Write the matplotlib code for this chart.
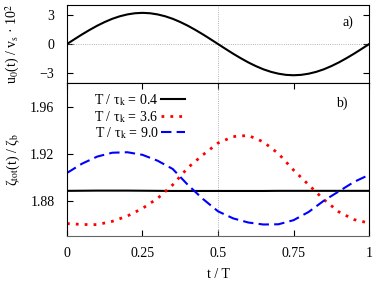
import matplotlib
matplotlib.use("Agg")
import matplotlib.pyplot as plt

plt.rcParams['font.family'] = ['Liberation Serif', 'DejaVu Serif']
plt.rcParams['mathtext.fontset'] = 'stix'
plt.rcParams['font.size'] = 10

# time axis (t / T)
t_top = [0.0, 0.025, 0.05, 0.075, 0.1, 0.125, 0.15, 0.175, 0.2, 0.225, 0.25,
         0.275, 0.3, 0.325, 0.35, 0.375, 0.4, 0.425, 0.45, 0.475, 0.5,
         0.525, 0.55, 0.575, 0.6, 0.625, 0.65, 0.675, 0.7, 0.725, 0.75,
         0.775, 0.8, 0.825, 0.85, 0.875, 0.9, 0.925, 0.95, 0.975, 1.0]
u0 = [0.0, 0.50, 0.99, 1.45, 1.88, 2.26, 2.59, 2.85, 3.04, 3.16, 3.2,
      3.16, 3.04, 2.85, 2.59, 2.26, 1.88, 1.45, 0.99, 0.50, 0.0,
      -0.50, -0.99, -1.45, -1.88, -2.26, -2.59, -2.85, -3.04, -3.16, -3.2,
      -3.16, -3.04, -2.85, -2.59, -2.26, -1.88, -1.45, -0.99, -0.50, 0.0]

t_bot = [0.0, 0.05, 0.1, 0.15, 0.2, 0.25, 0.3, 0.35, 0.4, 0.45, 0.5,
         0.55, 0.6, 0.65, 0.7, 0.75, 0.8, 0.85, 0.9, 0.95, 1.0]
zeta_04 = [1.8884, 1.8885, 1.8886, 1.8886, 1.8886, 1.8885, 1.8884, 1.8883, 1.8883, 1.8883, 1.8883,
           1.8883, 1.8883, 1.8883, 1.8884, 1.8884, 1.8884, 1.8884, 1.8884, 1.8884, 1.8884]
zeta_36 = [1.8606, 1.8598, 1.8597, 1.8625, 1.8670, 1.8735, 1.8820, 1.8935, 1.9080, 1.9190, 1.9290,
           1.9345, 1.9355, 1.9300, 1.9200, 1.9060, 1.8935, 1.8810, 1.8705, 1.8640, 1.8610]
zeta_90 = [1.9036, 1.9115, 1.9175, 1.9208, 1.9212, 1.9190, 1.9140, 1.9070, 1.8935, 1.8815, 1.8710,
           1.8650, 1.8615, 1.8598, 1.8600, 1.8635, 1.8705, 1.8800, 1.8880, 1.8960, 1.9020]
labels = ['T / τ$_\\mathrm{k}$ = 0.4', 'T / τ$_\\mathrm{k}$ = 3.6', 'T / τ$_\\mathrm{k}$ = 9.0']

xticks = [0, 0.25, 0.5, 0.75, 1]
xticklabels = ['0', '0.25', '0.5', '0.75', '1']

fig = plt.figure(figsize=(3.74, 2.81), dpi=100)
gs = fig.add_gridspec(2, 1, height_ratios=[78, 153], hspace=0,
                      left=0.179, right=0.987, top=0.982, bottom=0.160)
ax1 = fig.add_subplot(gs[0])
ax2 = fig.add_subplot(gs[1], sharex=ax1)

# panel a)
ax1.axhline(0, color='#999999', lw=0.6, ls=':')
ax1.axvline(0.5, color='#999999', lw=0.6, ls=':')
ax1.plot(t_top, u0, color='black', lw=1.5)
ax1.set_ylim(-4, 4)
ax1.set_yticks([-3, 0, 3])
ax1.set_yticklabels(['−3', '0', '3'])
ax1.tick_params(axis='y', direction='in', left=True, right=True, length=4, pad=9)
ax1.tick_params(axis='x', bottom=False, labelbottom=False)
ax1.set_ylabel('u$_0$(t) / v$_\\mathrm{s}$ · 10$^2$', labelpad=6)
ax1.text(0.93, 0.78, 'a)', transform=ax1.transAxes, ha='center', va='center')

# panel b)
ax2.axvline(0.5, color='#999999', lw=0.6, ls=':')
ax2.plot(t_bot, zeta_04, color='black', lw=1.5, label=labels[0])
ax2.plot(t_bot, zeta_36, color='red', lw=2.0, ls=(0, (1, 2.2)), label=labels[1])
ax2.plot(t_bot, zeta_90, color='blue', lw=1.5, ls=(0, (5, 2.5)), label=labels[2])
ax2.set_xlim(0, 1)
ax2.set_ylim(1.85, 1.98)
ax2.set_yticks([1.88, 1.92, 1.96])
ax2.set_xticks(xticks)
ax2.set_xticklabels(xticklabels)
ax2.tick_params(axis='y', direction='in', left=True, right=False, length=4, pad=9)
ax2.tick_params(axis='x', direction='in', bottom=True, top=True, length=4, pad=8)
ax2.spines['bottom'].set_color('#666666')
ax2.set_xlabel('t / T', labelpad=6)
ax2.set_ylabel('ζ$_\\mathrm{tot}$(t) / ζ$_\\mathrm{b}$', labelpad=6)
ax2.text(0.91, 0.87, 'b)', transform=ax2.transAxes, ha='center', va='center')
ax2.legend(loc='upper left', bbox_to_anchor=(0.09, 0.94), markerfirst=False,
           frameon=False, handlelength=1.7, handletextpad=0.2, labelspacing=0.05,
           borderpad=0, borderaxespad=0)

fig.align_ylabels([ax1, ax2])
fig.savefig('out.png', dpi=100)
